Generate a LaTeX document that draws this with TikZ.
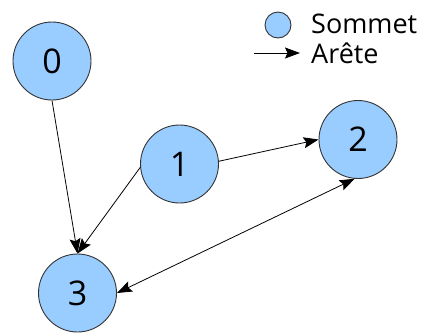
\documentclass[tikz,border=0pt]{standalone}
\usepackage{fontspec}
\setmainfont{Open Sans}
\usetikzlibrary{arrows.meta}
\definecolor{vfill}{HTML}{99CCFF}
\definecolor{vline}{HTML}{333333}
\begin{document}
\begin{tikzpicture}[x=1pt,y=-1pt,
  vertex/.style={circle,draw=vline,line width=0.9pt,fill=vfill,minimum size=78pt,inner sep=0pt,font=\fontsize{34}{34}\selectfont},
  tip/.style={Stealth[length=15pt,width=11pt,inset=2.5pt]},
  edge/.style={line width=0.8pt,-{Stealth[length=15pt,width=11pt,inset=2.5pt]}},
  biedge/.style={line width=0.8pt,{Stealth[length=15pt,width=11pt,inset=2.5pt]}-{Stealth[length=15pt,width=11pt,inset=2.5pt]}},
  legendtext/.style={anchor=base west,inner sep=0pt,font=\fontsize{27}{27}\selectfont,text=black}]
\useasboundingbox (0,0) rectangle (428,333);
% vertices
\node[vertex] (v0) at (52,61) {0};
\node[vertex] (v1) at (179.5,164) {1};
\node[vertex] (v2) at (358,139.5) {2};
\node[vertex] (v3) at (77.5,293) {3};
% edges
\draw[edge] (v0.south) -- (v3.north);
\draw[edge] (v1.185) -- (v3.north);
\draw[edge] (v1.4) -- (v2.west);
\draw[biedge] (v2.265) -- (v3.east);
% legend
\node[circle,draw=vline,line width=0.9pt,fill=vfill,minimum size=26pt,inner sep=0pt] (lv) at (278,25) {};
\node[legendtext] (ls) at (311,33) {Sommet};
\coordinate (la) at (254,53);
\coordinate (lb) at (300,53);
\draw[edge] (la) -- (lb);
\node[legendtext] (le) at (311,63) {Arête};
\end{tikzpicture}
\end{document}
